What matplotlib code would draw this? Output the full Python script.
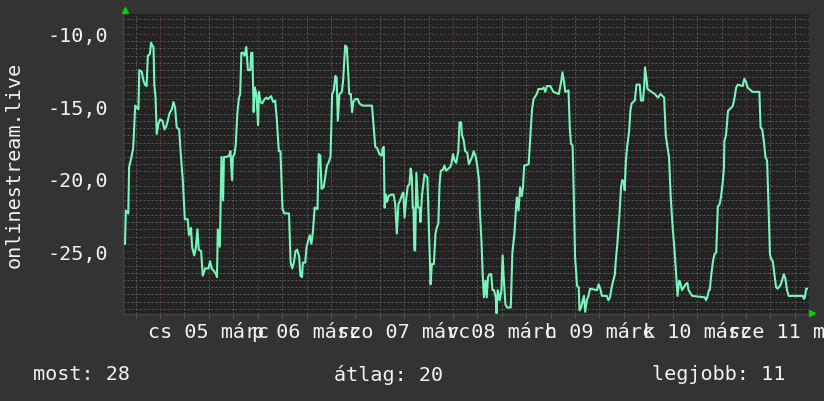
import numpy as np
import matplotlib
matplotlib.use("Agg")
import matplotlib.pyplot as plt
from matplotlib.ticker import MultipleLocator, FixedLocator

# --- Daten (Stunden seit 05 márc 00:00, Werte) ---
hours = [
    -8.6, -8.4, -7.8, -7.6, -7.1, -6.6, -6.1, -5.3, -5.1, -4.5, -4.1, -3.7, -3.3, -3.0,
    -2.5, -2.2, -1.9, -1.6, -1.4, -1.1, -0.8, -0.4, 0.0, 0.6, 1.1, 1.5, 1.9, 2.3, 2.9,
    3.3, 3.7, 4.1, 4.7, 5.1, 5.6, 6.1, 6.8, 7.1, 7.6, 7.9, 8.4, 8.8, 9.2, 9.5, 10.1,
    10.5, 11.1, 11.9, 12.3, 12.7, 13.3, 13.8, 14.0, 14.2, 14.7, 15.1, 15.5, 15.7, 16.3,
    17.0, 17.3, 17.7, 17.9, 18.3, 18.6, 19.0, 19.4, 19.7, 20.0, 20.4, 20.8, 21.2, 21.6,
    22.2, 22.4, 22.7, 23.0, 23.3, 23.7, 24.1, 24.3, 24.7, 25.1, 25.7, 26.1, 26.5, 27.3,
    27.8, 28.3, 28.7, 29.2, 29.6, 30.1, 30.6, 31.7, 32.1, 32.5, 32.9, 33.3, 33.7, 34.2,
    34.5, 34.9, 35.1, 35.7, 36.0, 36.4, 36.8, 37.2, 37.6, 38.0, 38.7, 39.0, 39.4, 39.7,
    40.2, 40.6, 41.0, 41.4, 41.9, 42.3, 42.7, 43.1, 43.4, 43.7, 44.1, 44.7, 45.0, 45.5,
    45.9, 46.2, 46.5, 46.9, 47.2, 47.5, 48.0, 48.6, 49.0, 49.8, 52.1, 52.4, 52.9, 53.4,
    53.9, 54.5, 54.7, 55.0, 55.2, 55.5, 55.8, 56.2, 56.8, 57.4, 57.8, 58.2, 58.6, 59.0,
    59.5, 59.8, 60.1, 60.5, 60.9, 61.3, 61.6, 61.9, 62.1, 62.3, 62.5, 62.7, 63.0, 63.4,
    63.8, 64.0, 64.4, 65.0, 65.7, 66.1, 66.5, 66.8, 67.3, 67.7, 68.0, 68.4, 68.7, 69.0,
    69.5, 69.9, 70.3, 71.3, 71.6, 72.0, 72.4, 72.8, 73.3, 73.6, 74.0, 74.2, 74.6, 75.0,
    75.5, 75.9, 76.3, 76.7, 77.1, 77.6, 78.0, 78.4, 78.6, 79.0, 79.3, 79.6, 80.0, 80.3,
    80.6, 81.0, 81.4, 81.7, 82.1, 82.5, 82.7, 83.0, 83.5, 83.9, 84.2, 84.5, 84.9, 85.3,
    86.2, 86.6, 87.1, 87.5, 87.7, 88.1, 88.5, 88.9, 89.2, 89.5, 90.6, 91.0, 91.4, 91.8,
    92.6, 93.0, 93.9, 94.3, 94.7, 95.1, 95.9, 96.7, 98.0, 98.6, 98.9, 99.3, 99.6, 100.4,
    100.7, 101.0, 101.4, 101.7, 102.0, 102.5, 102.9, 103.1, 103.5, 103.9, 104.2, 104.5,
    104.9, 105.3, 105.7, 107.4, 107.8, 108.2, 108.6, 109.8, 110.2, 110.6, 111.0, 111.8,
    112.0, 112.4, 112.9, 113.3, 113.6, 114.0, 114.2, 114.5, 114.8, 115.3, 115.6, 115.9,
    116.7, 117.1, 117.9, 118.2, 118.7, 119.0, 119.2, 119.6, 119.8, 120.8, 121.6, 122.4,
    123.0, 123.9, 124.3, 124.7, 125.1, 125.5, 126.0, 126.4, 126.8, 127.2, 127.6, 127.9,
    128.3, 129.2, 129.6, 129.9, 130.8, 133.9, 134.2, 134.5, 134.9, 135.1, 135.5, 135.9,
    136.3, 136.7, 137.1, 137.5, 137.9, 138.3, 138.6, 138.7, 139.1, 139.6, 140.4, 140.8,
    141.2, 141.6, 142.0, 143.2, 143.6, 144.0, 144.4, 145.2, 145.6, 147.3, 147.6, 148.0,
    148.4, 148.8, 149.2, 149.5, 149.9, 150.2, 150.6, 151.0, 151.4, 151.8, 152.6, 153.0,
    153.3, 153.7, 154.1, 154.5, 158.0, 158.2, 158.5, 158.8, 159.0,
]
temps = [
    -24.5, -22.2, -22.4, -19.2, -18.6, -17.9, -14.95, -15.2, -12.5, -12.6, -13.2, -13.5, -13.6, -11.5,
    -11.4, -10.6, -10.8, -10.9, -13.5, -14.4, -16.9, -16.2, -15.9, -16.0, -16.6, -16.4, -16.0, -15.5, -15.2,
    -14.7, -15.1, -16.45, -16.6, -18.3, -20.1, -22.8, -22.8, -23.9, -23.4, -24.75, -25.3, -24.75, -23.5, -24.9, -25.0,
    -26.7, -26.2, -26.2, -25.7, -26.2, -26.4, -26.6, -26.8, -23.5, -24.7, -18.5, -21.5, -18.5, -18.5,
    -18.4, -18.1, -20.1, -18.5, -18.3, -17.7, -15.5, -14.4, -14.15, -11.3, -11.3, -11.5, -10.9, -12.5,
    -12.5, -11.3, -11.3, -15.4, -13.7, -14.2, -16.3, -14.0, -14.7, -14.8, -14.5, -14.4, -14.5, -14.3,
    -14.7, -14.6, -15.9, -18.1, -18.1, -22.1, -22.4, -22.4, -25.8, -26.2, -25.8, -25.0, -24.9, -25.4,
    -26.7, -26.8, -25.8, -25.8, -24.75, -24.3, -23.9, -24.5, -23.6, -22.0, -22.1, -18.3, -18.4, -20.7,
    -20.6, -19.9, -19.1, -18.9, -18.5, -14.15, -13.9, -12.9, -13.0, -16.0, -14.15, -14.0, -13.2, -10.8,
    -10.9, -12.4, -14.15, -14.15, -15.4, -14.7, -14.5, -14.5, -14.8, -14.95, -14.95, -16.0, -17.8, -17.9,
    -18.3, -18.4, -17.9, -17.8, -22.0, -21.1, -21.6, -21.2, -21.1, -21.1, -21.75, -23.8, -21.75, -21.5,
    -21.1, -20.95, -22.7, -21.4, -20.5, -20.4, -19.3, -19.9, -22.0, -22.0, -24.95, -24.95, -19.6, -22.0,
    -22.0, -23.0, -21.1, -19.7, -19.9, -23.6, -27.3, -25.9, -25.9, -23.8, -23.4, -23.1, -20.4, -19.45,
    -19.4, -19.1, -19.45, -19.2, -19.0, -18.3, -18.75, -18.9, -18.1, -16.1, -16.1, -17.0, -17.3, -18.1,
    -18.2, -19.0, -18.75, -18.5, -18.1, -18.5, -19.2, -20.1, -22.2, -24.3, -26.6, -28.2, -27.05, -28.2,
    -26.8, -26.6, -26.6, -27.7, -27.7, -28.2, -29.3, -27.7, -28.4, -27.7, -25.3, -27.0, -28.7, -28.9,
    -28.9, -25.1, -23.8, -22.0, -21.3, -22.2, -20.6, -21.2, -20.6, -19.1, -19.0, -17.1, -15.3, -14.5,
    -14.15, -13.8, -13.8, -13.7, -14.0, -13.6, -13.6, -14.0, -14.15, -13.3, -12.65, -13.3, -14.0, -13.9,
    -16.45, -17.6, -17.7, -21.3, -25.4, -27.4, -27.5, -29.1, -28.9, -28.4, -28.1, -29.2,
    -28.4, -28.1, -27.6, -27.7, -27.3, -27.6, -28.1, -28.1, -28.4, -28.2, -27.5, -26.6,
    -25.7, -24.5, -22.5, -20.6, -20.1, -20.2, -20.8, -18.75, -17.8, -16.7, -15.3, -14.8,
    -14.6, -13.5, -13.5, -14.6, -14.6, -13.6, -12.3, -13.2, -13.8, -14.0, -14.15, -14.4,
    -14.15, -14.4, -17.0, -17.8, -18.5, -21.2, -23.4, -24.75, -26.4, -28.1, -27.05, -27.2,
    -27.7, -27.3, -27.2, -27.7, -28.1, -28.2, -28.4, -28.2, -27.7, -27.7, -26.6, -25.7,
    -25.2, -25.1, -21.9, -21.8, -21.2, -20.25, -19.2, -17.4, -17.0, -15.3, -15.1, -14.95,
    -14.4, -13.7, -13.5, -13.6, -13.1, -13.3, -13.7, -13.9, -14.0, -14.0, -16.45, -16.6,
    -17.4, -18.5, -18.75, -21.4, -25.2, -25.55, -25.7, -26.6, -27.5, -27.6, -27.3, -26.9,
    -26.6, -26.9, -27.7, -28.1, -28.1, -28.3, -28.2, -27.6, -27.6,
]

day_labels = ["cs 05 márc", "p 06 márc", "szo 07 márc", "v 08 márc",
              "h 09 márc", "k 10 márc", "sze 11 márc"]
yticks = [-25.0, -20.0, -15.0, -10.0]
ylabel = "onlinestream.live"
stats = [("most: 28", 33), ("átlag: 20", 334), ("legjobb: 11", 652)]

# --- Stil ---
BG = "#333333"
PLOT_BG = "#222222"
LINE = "#78f5b8"
GRID_MINOR = "#5a5a5a"
GRID_MAJOR = "#6e3434"
TXT = "#f2f2f2"
MONO = "DejaVu Sans Mono"
FS = 14.5

W, H = 824, 402
fig = plt.figure(figsize=(W / 100, H / 100), dpi=100, facecolor=BG)
ax = fig.add_axes([123 / W, 1 - 315 / H, 686 / W, 300 / H])
ax.set_facecolor(PLOT_BG)

ax.plot(hours, temps, color=LINE, lw=1.5, zorder=3)

ax.set_xlim(-9.1, 159.5)
ax.set_ylim(-29.35, -8.62)

# Gitter: 6h / 0,5 fein, 24h / 5 grob (rot), gepunktet
ax.xaxis.set_major_locator(MultipleLocator(24))
ax.xaxis.set_minor_locator(MultipleLocator(6))
ax.yaxis.set_major_locator(FixedLocator(yticks))
ax.yaxis.set_minor_locator(MultipleLocator(0.5))
ax.grid(True, which="minor", color=GRID_MINOR, lw=0.72, ls=(0, (2, 2)), zorder=1)
ax.grid(True, which="major", color=GRID_MAJOR, lw=0.72, ls=(0, (2, 2)), zorder=2)
ax.set_axisbelow(True)

ax.set_xticklabels([])
ax.tick_params(axis="x", which="both", length=3, color="#5a5a5a", direction="out")
ax.tick_params(axis="y", which="both", length=0, pad=11, labelsize=FS, labelcolor=TXT)
ax.set_yticklabels([f"{v:.1f}".replace(".", ",") for v in yticks], family=MONO)

for s in ["top", "right"]:
    ax.spines[s].set_visible(False)
for s in ["left", "bottom"]:
    ax.spines[s].set_color("#444444")
    ax.spines[s].set_linewidth(1.0)

# Tagesbeschriftungen (mittig am Mittag)
for i, lab in enumerate(day_labels):
    ax.text(12 + 24 * i, -0.057, lab, transform=ax.get_xaxis_transform(),
            ha="center", va="center", color=TXT, fontsize=FS, family=MONO,
            clip_on=False)

fig.text(14 / W, 1 - 165 / H, ylabel, rotation=90, ha="center", va="center",
         color=TXT, fontsize=FS, family=MONO)

for txt, xp in stats:
    fig.text(xp / W, 1 - 375 / H, txt, ha="left", va="center",
             color=TXT, fontsize=FS, family=MONO)

# grüne Pfeile an den Achsenenden
fig.add_artist(plt.Line2D([125 / W], [1 - 11 / H], marker="^", ms=5, color="#00d000",
                          transform=fig.transFigure, lw=0))
fig.add_artist(plt.Line2D([812 / W], [1 - 314 / H], marker=">", ms=5, color="#00d000",
                          transform=fig.transFigure, lw=0))

fig.savefig("out.png", dpi=100, facecolor=BG)
